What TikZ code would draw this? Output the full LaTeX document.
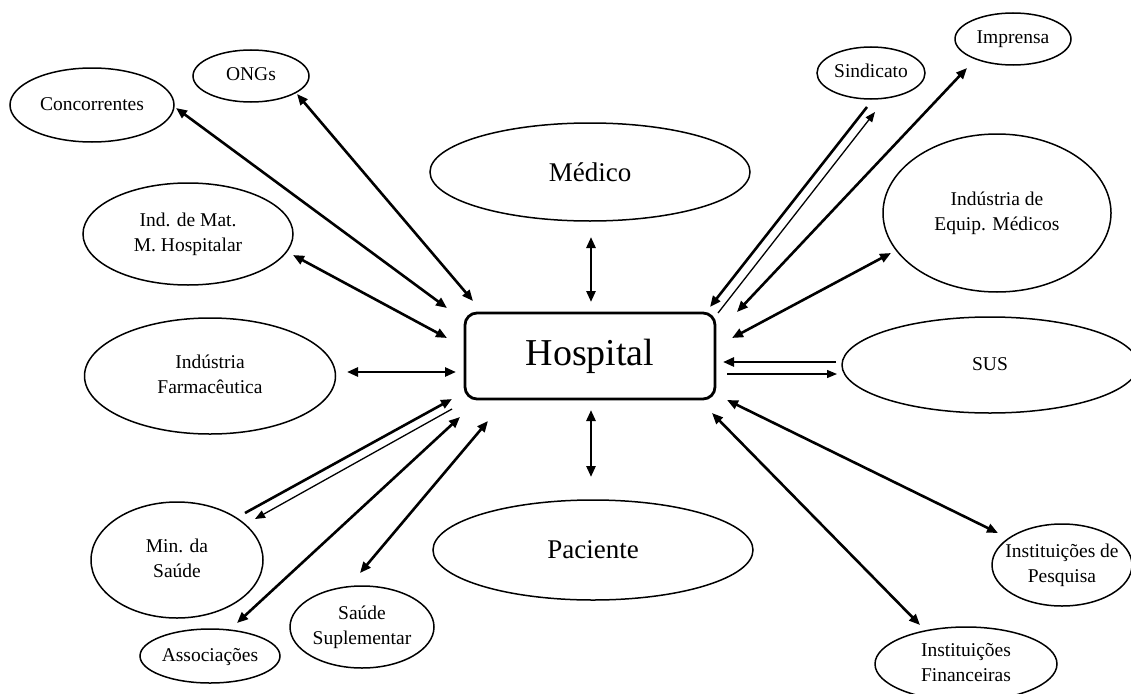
\documentclass[tikz,border=0pt]{standalone}
\usepackage{fontspec}
\setmainfont{Liberation Serif}
\usetikzlibrary{shapes.geometric,arrows.meta,calc}
\newcommand{\lbl}[1]{\raisebox{-2pt}{\makebox[0pt][c]{\fontsize{19.5}{25}\selectfont\begin{tabular}{@{}c@{}}#1\end{tabular}}}}
\tikzset{
  ell/.style={draw, ellipse, line width=1.5pt, inner sep=0pt},
  hospbox/.style={draw, rectangle, rounded corners=12pt, line width=2.8pt, minimum width=250pt, minimum height=86pt, inner sep=0pt, font=\fontsize{38}{44}\selectfont},
  bigtext/.style={font=\fontsize{27}{32}\selectfont},
  tip/.tip={Triangle[length=11pt,width=9pt]},
  dbl/.style={{tip}-{tip}, line width=2.6pt},
  one/.style={-{tip}, line width=2.6pt},
  thinarrow/.style={-{Triangle[length=10pt,width=8pt]}, line width=1.3pt},
}
\begin{document}
\begin{tikzpicture}[x=1pt,y=-1pt]
\fill[white] (0,0) rectangle (1131,693);
\useasboundingbox (0,0) rectangle (1131,693);

% central
\node[hospbox] (hosp) at (590,356) {Hospital};
\node[ell, bigtext, minimum width=320pt, minimum height=98pt] (med) at (590,172) {Médico};
\node[ell, bigtext, minimum width=320pt, minimum height=100pt] (pac) at (593,550) {Paciente};

% left
\node[ell, minimum width=164pt, minimum height=74pt] (conc) at (92,105) {\lbl{Concorrentes}};
\node[ell, minimum width=116pt, minimum height=52pt] (ongs) at (251,76) {\lbl{ONGs}};
\node[ell, minimum width=210pt, minimum height=102pt] (indmat) at (188,234) {\raisebox{-3pt}{\lbl{Ind. de Mat.\\M. Hospitalar}}};
\node[ell, minimum width=251pt, minimum height=116pt] (farm) at (210,376) {\lbl{Indústria\\Farmacêutica}};
\node[ell, minimum width=172pt, minimum height=116pt] (min) at (177,560) {\lbl{Min. da\\Saúde}};
\node[ell, minimum width=140pt, minimum height=54pt] (assoc) at (210,656) {\lbl{Associações}};
\node[ell, minimum width=144pt, minimum height=82pt] (saude) at (362,627) {\lbl{Saúde\\Suplementar}};

% right
\node[ell, minimum width=108pt, minimum height=52pt] (sind) at (871,73) {\lbl{Sindicato}};
\node[ell, minimum width=116pt, minimum height=52pt] (impr) at (1013,39) {\lbl{Imprensa}};
\node[ell, minimum width=228pt, minimum height=158pt] (equip) at (997,213) {\lbl{Indústria de\\Equip. Médicos}};
\node[ell, minimum width=296pt, minimum height=96pt] (sus) at (990,365) {\lbl{SUS}};
\node[ell, minimum width=140pt, minimum height=82pt] (pesq) at (1062,565) {\lbl{Instituições de\\Pesquisa}};
\node[ell, minimum width=182pt, minimum height=74pt] (finan) at (966,664) {\lbl{Instituições\\Financeiras}};

% connectors, left
\draw[dbl] ($(conc.center)+(84,3)$) -- ($(hosp.center)+(-143,-48)$);
\draw[dbl] ($(ongs.center)+(46,18)$) -- ($(hosp.center)+(-117,-55)$);
\draw[dbl] ($(indmat.center)+(105,21)$) -- ($(hosp.center)+(-143,-18)$);
\draw[dbl] ($(farm.center)+(137,-4)$) -- ($(hosp.center)+(-134,16)$);
\draw[one] ($(min.center)+(68,-47)$) -- ($(hosp.center)+(-138,43)$);
\draw[thinarrow] ($(hosp.center)+(-138,53)$) -- ($(min.center)+(78,-41)$);
\draw[dbl] ($(assoc.center)+(27,-33)$) -- ($(hosp.center)+(-130,61)$);
\draw[dbl] ($(saude.center)+(-2,-54)$) -- ($(hosp.center)+(-102,65)$);

% connectors, vertical
\draw[dbl] ($(med.center)+(1,65)$) -- ($(hosp.center)+(1,-54)$);
\draw[dbl] ($(pac.center)+(-2,-73)$) -- ($(hosp.center)+(1,54)$);

% connectors, right
\draw[one] ($(sind.center)+(-4,34)$) -- ($(hosp.center)+(120,-49)$);
\draw[thinarrow] ($(hosp.center)+(128,-43)$) -- ($(sind.center)+(4,39)$);
\draw[dbl] ($(impr.center)+(-46,29)$) -- ($(hosp.center)+(147,-44)$);
\draw[dbl] ($(equip.center)+(-106,40)$) -- ($(hosp.center)+(142,-18)$);
\draw[one] ($(sus.center)+(-154,-3)$) -- ($(hosp.center)+(133,6)$);
\draw[thinarrow] ($(hosp.center)+(137,18)$) -- ($(sus.center)+(-153,9)$);
\draw[dbl] ($(pesq.center)+(-64,-32)$) -- ($(hosp.center)+(137,44)$);
\draw[dbl] ($(finan.center)+(-46,-39)$) -- ($(hosp.center)+(122,57)$);
\end{tikzpicture}
\end{document}
